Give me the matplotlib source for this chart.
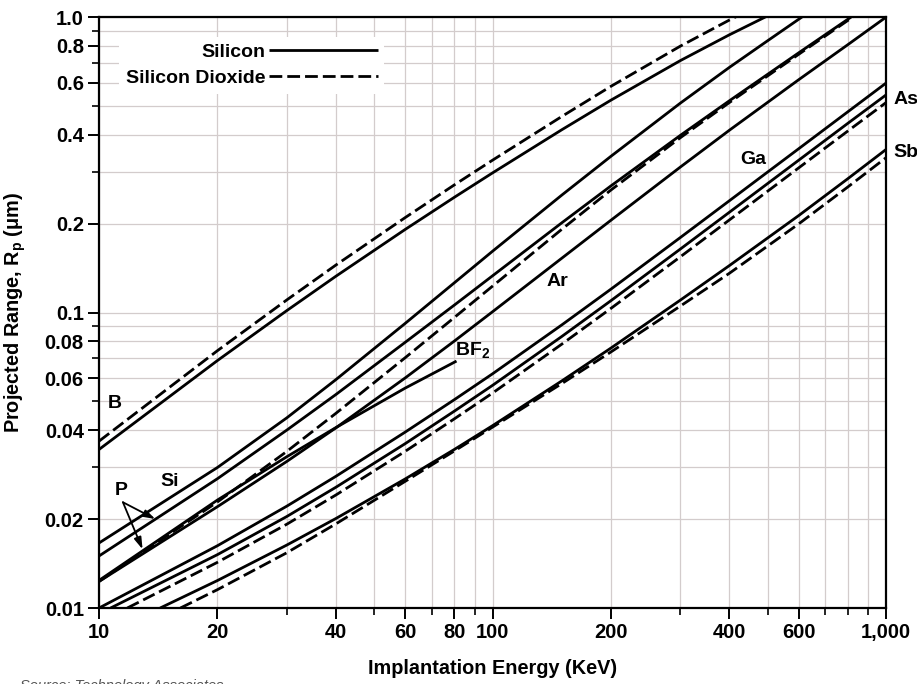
import matplotlib
matplotlib.use("Agg")
import matplotlib.pyplot as plt
from matplotlib.ticker import FixedLocator, FixedFormatter, NullFormatter

plt.rcParams['font.family'] = ['Liberation Sans', 'DejaVu Sans']
plt.rcParams['font.weight'] = 'bold'
plt.rcParams['mathtext.fontset'] = 'custom'
plt.rcParams['mathtext.rm'] = 'Liberation Sans:bold'
plt.rcParams['mathtext.it'] = 'Liberation Sans:bold'
plt.rcParams['mathtext.bf'] = 'Liberation Sans:bold'

# ---------------- data (energy in keV, projected range in um) ----------------
E_B_si = [10, 20, 30, 40, 60, 80, 100, 150, 200, 300, 400, 500]
R_B_si = [0.0344, 0.0688, 0.1015, 0.1327, 0.1911, 0.2455, 0.2968, 0.4155, 0.5233, 0.7119, 0.8708, 1.009]
E_B_ox = [10, 20, 30, 40, 60, 80, 100, 150, 200, 300, 400, 425]
R_B_ox = [0.0367, 0.0743, 0.1103, 0.1448, 0.2096, 0.2704, 0.3277, 0.4608, 0.5829, 0.7968, 0.977, 1.017]

E_Si_si = [10, 20, 30, 40, 60, 80, 100, 150, 200, 300, 400, 500, 622]
R_Si_si = [0.0166, 0.0299, 0.0440, 0.0593, 0.0919, 0.1261, 0.1612, 0.2497, 0.3379, 0.5110, 0.6756, 0.8310, 1.016]

E_P_si = [10, 20, 30, 40, 60, 80, 100, 150, 200, 300, 400, 600, 800, 824]
R_P_si = [0.0150, 0.0274, 0.0400, 0.0528, 0.0793, 0.1060, 0.1331, 0.2012, 0.2683, 0.3975, 0.5208, 0.7566, 0.9829, 1.0097]
E_P_ox = [10, 20, 30, 40, 60, 80, 100, 150, 200, 300, 400, 600, 800, 824]
R_P_ox = [0.0123, 0.02286, 0.03387, 0.0456, 0.07034, 0.09623, 0.1228, 0.1913, 0.2598, 0.3903, 0.5137, 0.7480, 0.9739, 1.0005]

E_Ar_si = [10, 20, 30, 40, 60, 80, 100, 150, 200, 300, 400, 600, 800, 1000]
R_Ar_si = [0.0123, 0.02203, 0.03133, 0.04072, 0.06008, 0.08008, 0.1006, 0.1527, 0.2053, 0.3105, 0.4140, 0.6136, 0.8064, 0.9989]

E_BF2_si = [10, 20, 30, 40, 60, 81]
R_BF2_si = [0.0124, 0.0232, 0.0325, 0.0408, 0.0555, 0.0685]

E_Ga_si = [10, 20, 30, 40, 60, 80, 100, 150, 200, 300, 400, 600, 800, 1000]
R_Ga_si = [0.0100, 0.01625, 0.02211, 0.02791, 0.03939, 0.05072, 0.06202, 0.0908, 0.1200, 0.1793, 0.2390, 0.3584, 0.4780, 0.5976]

E_As_si = [10.7, 20, 30, 40, 60, 80, 100, 150, 200, 300, 400, 600, 800, 1000]
R_As_si = [0.0100, 0.01516, 0.02040, 0.02563, 0.03600, 0.04638, 0.05668, 0.08298, 0.1097, 0.1639, 0.2185, 0.3277, 0.4369, 0.5449]
E_As_ox = [11.8, 20, 30, 40, 60, 80, 100, 150, 200, 300, 400, 600, 800, 1000]
R_As_ox = [0.0100, 0.01428, 0.01921, 0.02413, 0.03391, 0.04368, 0.05338, 0.07816, 0.1033, 0.1543, 0.2058, 0.3087, 0.4115, 0.5133]

E_Sb_si = [14.3, 20, 30, 40, 60, 80, 100, 150, 200, 300, 400, 600, 800, 1000]
R_Sb_si = [0.0100, 0.01239, 0.01633, 0.02009, 0.02734, 0.03441, 0.04140, 0.05869, 0.07582, 0.1101, 0.1442, 0.2129, 0.2838, 0.3562]
E_Sb_ox = [16.1, 20, 30, 40, 60, 80, 100, 150, 200, 300, 400, 600, 800, 1000]
R_Sb_ox = [0.0100, 0.01154, 0.01538, 0.01927, 0.02684, 0.03401, 0.04093, 0.05749, 0.07357, 0.1051, 0.1358, 0.1995, 0.2661, 0.3341]

x_major = [10, 20, 40, 60, 80, 100, 200, 400, 600, 1000]
x_major_labels = ['10', '20', '40', '60', '80', '100', '200', '400', '600', '1,000']
x_minor = [30, 50, 70, 90, 300, 500, 700, 800, 900]
y_major = [0.01, 0.02, 0.04, 0.06, 0.08, 0.1, 0.2, 0.4, 0.6, 0.8, 1.0]
y_major_labels = ['0.01', '0.02', '0.04', '0.06', '0.08', '0.1', '0.2', '0.4', '0.6', '0.8', '1.0']
y_minor = [0.03, 0.05, 0.07, 0.09, 0.3, 0.5, 0.7, 0.9]

legend_labels = ['Silicon', 'Silicon Dioxide']
source_text = 'Source: Technology Associates'

# ---------------- figure ----------------
fig = plt.figure(figsize=(9.17, 6.84), dpi=100)
ax = fig.add_axes([0.108, 0.1111, 0.8582, 0.8640])
ax.set_xscale('log')
ax.set_yscale('log')
ax.set_xlim(10, 1000)
ax.set_ylim(0.01, 1.0)

LW = 2.0
DASH = (0, (4.6, 1.8))
solid_kw = dict(color='black', lw=LW, solid_capstyle='butt', solid_joinstyle='round', zorder=3)
dash_kw = dict(color='black', lw=LW, linestyle=DASH, dash_capstyle='butt', zorder=3)

l_si, = ax.plot(E_B_si, R_B_si, label=legend_labels[0], **solid_kw)
l_ox, = ax.plot(E_B_ox, R_B_ox, label=legend_labels[1], **dash_kw)
ax.plot(E_Si_si, R_Si_si, **solid_kw)
ax.plot(E_P_si, R_P_si, **solid_kw)
ax.plot(E_P_ox, R_P_ox, **dash_kw)
ax.plot(E_Ar_si, R_Ar_si, **solid_kw)
ax.plot(E_BF2_si, R_BF2_si, **solid_kw)
ax.plot(E_Ga_si, R_Ga_si, **solid_kw)
ax.plot(E_As_si, R_As_si, **solid_kw)
ax.plot(E_As_ox, R_As_ox, **dash_kw)
ax.plot(E_Sb_si, R_Sb_si, **solid_kw)
ax.plot(E_Sb_ox, R_Sb_ox, **dash_kw)

# ticks
ax.xaxis.set_major_locator(FixedLocator(x_major))
ax.xaxis.set_major_formatter(FixedFormatter(x_major_labels))
ax.xaxis.set_minor_locator(FixedLocator(x_minor))
ax.xaxis.set_minor_formatter(NullFormatter())
ax.yaxis.set_major_locator(FixedLocator(y_major))
ax.yaxis.set_major_formatter(FixedFormatter(y_major_labels))
ax.yaxis.set_minor_locator(FixedLocator(y_minor))
ax.yaxis.set_minor_formatter(NullFormatter())
ax.tick_params(which='major', direction='out', length=8, width=1.4, labelsize=14.5, pad=3)
ax.tick_params(which='minor', direction='out', length=5, width=1.2)
for lab in ax.get_xticklabels() + ax.get_yticklabels():
    lab.set_fontweight('bold')

ax.set_axisbelow(True)
ax.grid(True, which='both', color='#d3cccc', lw=0.9)
for s in ax.spines.values():
    s.set_linewidth(1.6)
    s.set_color('black')

ax.set_xlabel('Implantation Energy (KeV)', fontsize=14.3, fontweight='bold')
ax.set_ylabel(r'Projected Range, R$_\mathrm{p}$ ($\mu$m)', fontsize=14.3, fontweight='bold')
ax.xaxis.set_label_coords(0.5, -0.086)
ax.yaxis.set_label_coords(-0.090, 0.5)

# legend (text first, line after)
leg = ax.legend(handles=[l_si, l_ox], loc='upper left', bbox_to_anchor=(0.026, 0.967),
                borderaxespad=0, markerfirst=False, frameon=True, facecolor='white',
                edgecolor='none', framealpha=1, fancybox=False,
                prop={'weight': 'bold', 'size': 14}, handlelength=5.6,
                handletextpad=0.15, labelspacing=0.42, borderpad=0.35)

# curve labels
tkw = dict(fontsize=14, fontweight='bold', color='black', zorder=4)
ax.text(10.98, 0.0493, 'B', ha='center', va='center', **tkw)
ax.text(15.15, 0.0267, 'Si', ha='center', va='center', **tkw)
ax.text(11.4, 0.0250, 'P', ha='center', va='center', **tkw)
ax.text(80.4, 0.0745, r'BF$_\mathrm{2}$', ha='left', va='center', **tkw)
ax.text(146, 0.127, 'Ar', ha='center', va='center', **tkw)
ax.text(459, 0.329, 'Ga', ha='center', va='center', **tkw)
ax.text(1042, 0.525, 'As', ha='left', va='center', clip_on=False, **tkw)
ax.text(1042, 0.347, 'Sb', ha='left', va='center', clip_on=False, **tkw)

akw = dict(arrowstyle='-|>,head_length=0.7,head_width=0.22', color='black', lw=1.3,
           shrinkA=0, shrinkB=0)
ax.annotate('', xy=(13.9, 0.0200), xytext=(11.5, 0.0228), arrowprops=akw, zorder=4)
ax.annotate('', xy=(12.9, 0.0158), xytext=(11.5, 0.0228), arrowprops=akw, zorder=4)

fig.text(20 / 917, 1 - 679 / 684, source_text, fontsize=10.5, style='italic',
         fontweight='normal', color='#555555', va='top', ha='left')

fig.savefig('out.png', dpi=100)
